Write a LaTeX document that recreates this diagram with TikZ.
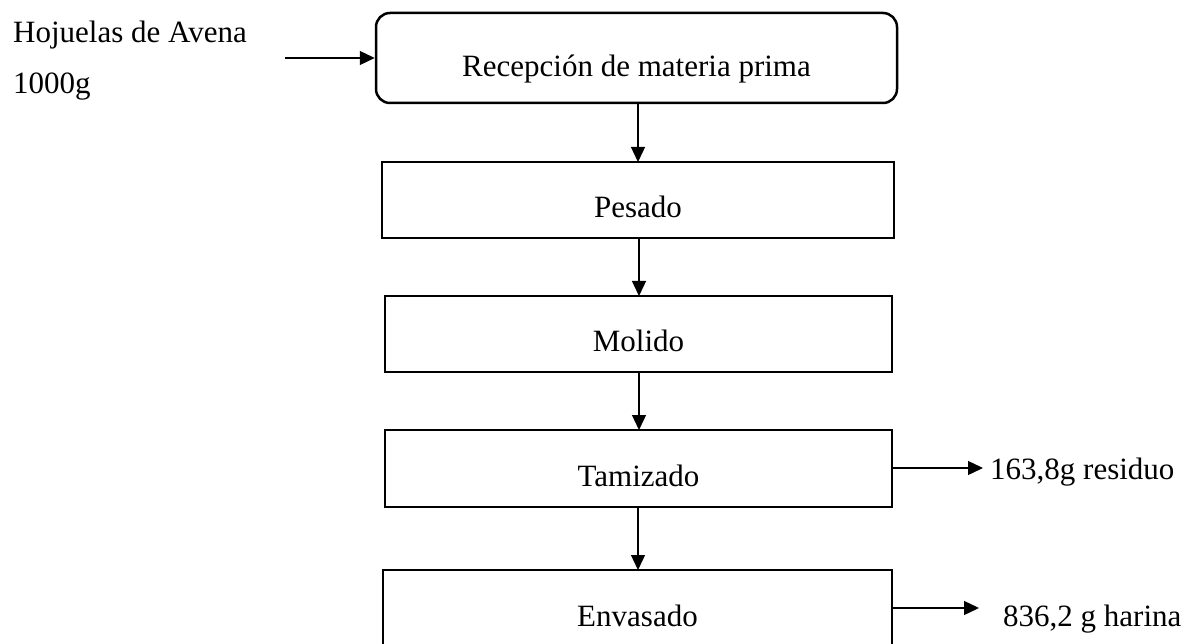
\documentclass[tikz,border=0pt]{standalone}
\usepackage{fontspec}
\setmainfont{Liberation Serif}
\usetikzlibrary{arrows.meta}
\begin{document}
\begin{tikzpicture}[x=1pt,y=-1pt,
  proc/.style={draw, line width=2.5pt, inner sep=0pt, font=\fontsize{31}{37}\selectfont, text depth=0pt},
  lbl/.style={inner sep=0pt, font=\fontsize{31}{37}\selectfont, anchor=base west},
  arr/.style={line width=1.3pt, -{Triangle[length=15pt,width=14pt]}}]
\useasboundingbox (0,0) rectangle (1202,644);
\node[proc, rounded corners=14pt, minimum width=521pt, minimum height=90pt, text height=38pt] (b1) at (636.5,58) {Recepción de materia prima};
\node[proc, minimum width=512pt, minimum height=76pt, text height=36pt] (b2) at (638,200) {Pesado};
\node[proc, minimum width=507pt, minimum height=76pt, text height=36pt] (b3) at (638.5,334) {Molido};
\node[proc, minimum width=507pt, minimum height=77pt, text height=36pt] (b4) at (638.5,468.5) {Tamizado};
\node[proc, minimum width=509pt, minimum height=76pt, text height=36pt] (b5) at (637.5,608) {Envasado};
\node[lbl] (in1) at (13,43) {Hojuelas de Avena};
\node[lbl] (in2) at (13,94) {1000g};
\node[lbl] (out1) at (990,479) {163,8g residuo};
\node[lbl] (out2) at (1003,626) {836,2 g harina};
\coordinate (ins) at (285,58);
\coordinate (o1) at (983,468);
\coordinate (o2) at (979,608);
\draw[arr] (ins) -- (ins -| b1.west);
\draw[arr] (638,103) -- (638,162);
\draw[arr] (639,238) -- (639,296);
\draw[arr] (639,372) -- (639,430);
\draw[arr] (638,507) -- (638,570);
\draw[arr] (b4.east |- o1) -- (o1);
\draw[arr] (b5.east |- o2) -- (o2);
\end{tikzpicture}
\end{document}
